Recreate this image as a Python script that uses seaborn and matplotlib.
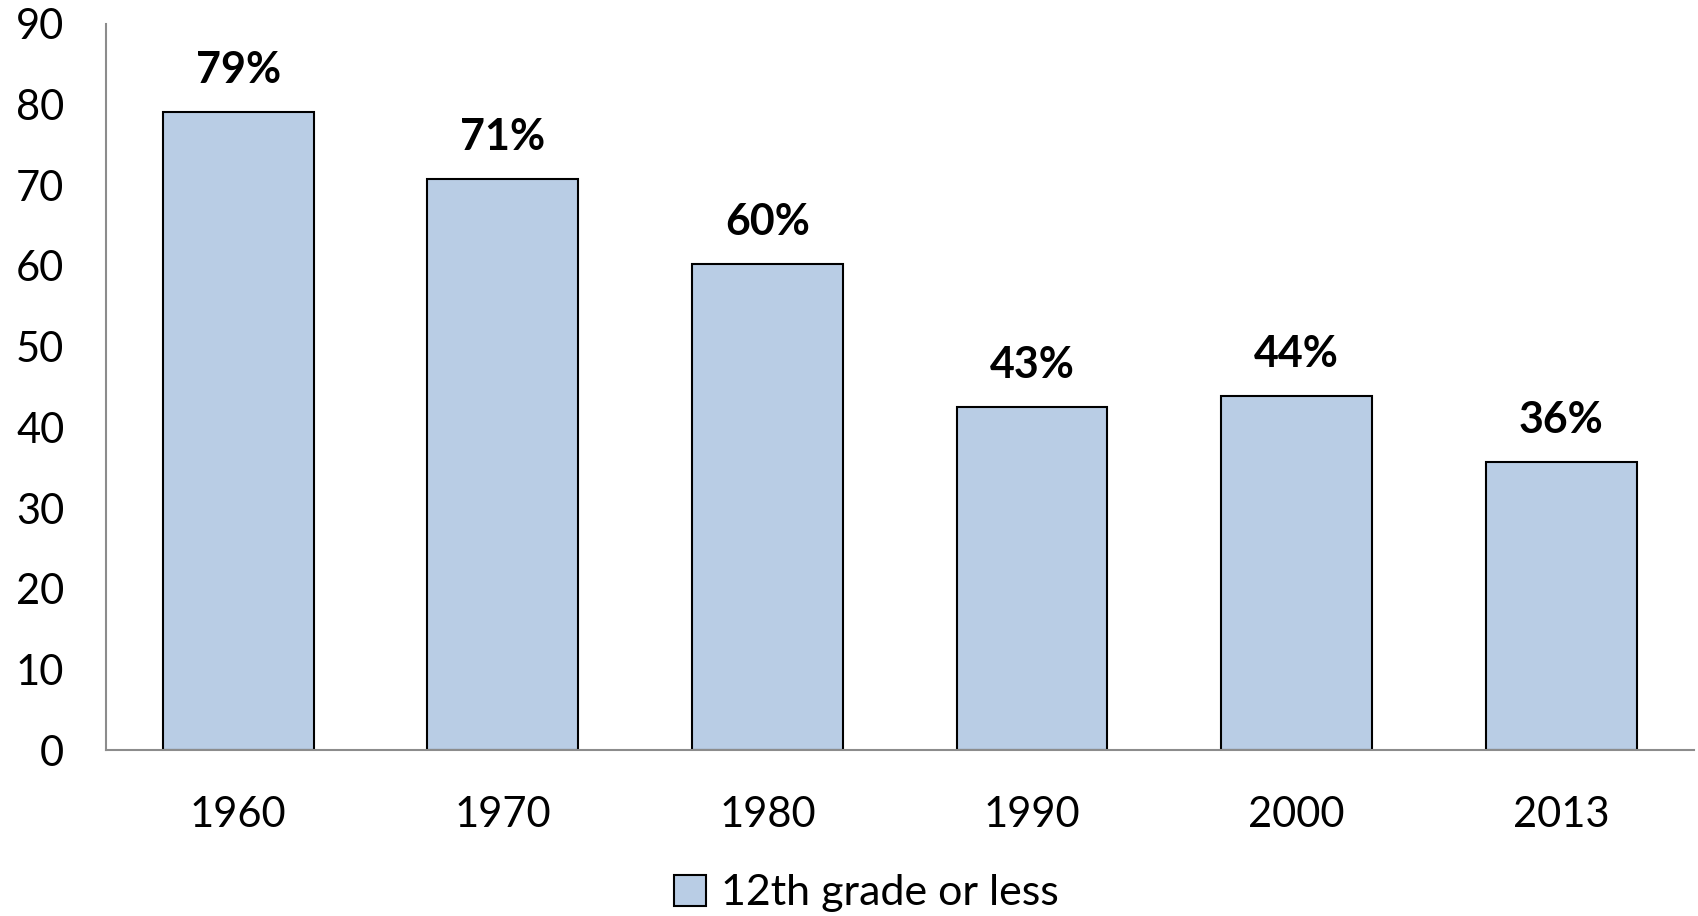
import pandas as pd
import seaborn as sns
import matplotlib.pyplot as plt


years = ["1960", "1970", "1980", "1990", "2000", "2013"]
share = [79.1, 70.8, 60.3, 42.5, 43.9, 35.7]
bar_labels = ["79%", "71%", "60%", "43%", "44%", "36%"]
series_name = "12th grade or less"


def main():
    sns.set_style("white")
    plt.rcParams["font.family"] = ["Lato", "DejaVu Sans"]
    plt.rcParams["text.color"] = "black"
    plt.rcParams["xtick.color"] = "black"
    plt.rcParams["ytick.color"] = "black"

    df = pd.DataFrame({"year": years, "share": share, "series": series_name})

    fig = plt.figure(figsize=(16.98, 9.16), dpi=100)
    ax = fig.add_axes([0.0624, 0.181, 0.935, 0.793])

    sns.barplot(data=df, x="year", y="share", hue="series",
                palette=["#B9CDE5"], saturation=1, edgecolor="black",
                linewidth=1.5, width=0.57, ax=ax)

    # labels above bars
    for i, (v, lab) in enumerate(zip(share, bar_labels)):
        ax.text(i, v + 2.7, lab, ha="center", va="bottom",
                fontsize=31, fontweight="bold")

    ax.set_ylim(0, 90)
    ax.set_yticks(range(0, 91, 10))
    ax.set_xlim(-0.5, len(years) - 0.5)
    ax.set_xlabel("")
    ax.set_ylabel("")
    ax.tick_params(axis="both", length=0, labelsize=30)
    ax.tick_params(axis="x", pad=33)
    ax.tick_params(axis="y", pad=30)

    for side in ["top", "right"]:
        ax.spines[side].set_visible(False)
    for side in ["left", "bottom"]:
        ax.spines[side].set_color("#8C8C8C")
        ax.spines[side].set_linewidth(1.5)

    sns.move_legend(ax, "center", bbox_to_anchor=(0.479, -0.197),
                    frameon=False, title=None, fontsize=31,
                    handlelength=0.75, handleheight=0.75, handletextpad=0.35)

    fig.savefig("out.png", dpi=100)
    plt.close("all")


if __name__ == "__main__":
    main()
